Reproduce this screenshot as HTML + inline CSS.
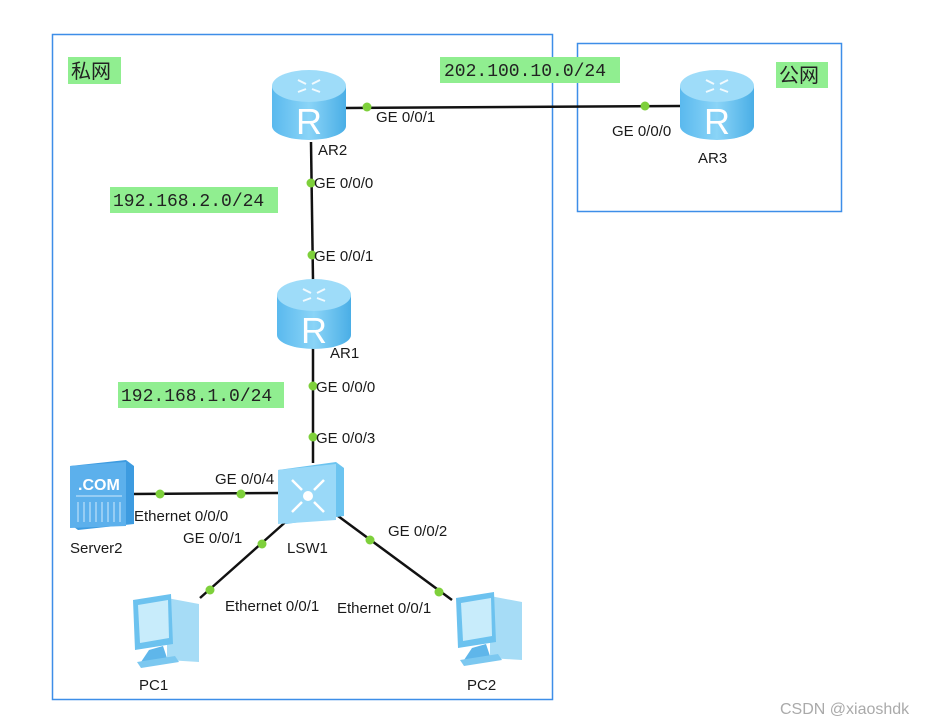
<!DOCTYPE html>
<html><head><meta charset="utf-8"><style>
html,body{margin:0;padding:0;background:#fff;width:936px;height:724px;overflow:hidden}
svg{display:block}
.t{font-family:"Liberation Sans",sans-serif;font-size:15px;fill:#1a1a1a}
.m{font-family:"Liberation Mono",monospace;font-size:18px;fill:#222}
.c{font-family:"Liberation Sans","Noto Sans CJK SC",sans-serif;font-size:20px;fill:#222}
</style></head><body>
<svg width="936" height="724" viewBox="0 0 936 724" xmlns="http://www.w3.org/2000/svg">
<defs>
<linearGradient id="rs" x1="0" y1="0" x2="1" y2="0"><stop offset="0" stop-color="#5ab9ee"/><stop offset="0.5" stop-color="#8ad4f7"/><stop offset="1" stop-color="#4aaee6"/></linearGradient>
<g id="router">
<path d="M0,16 L0,56 A37,14 0 0 0 74,56 L74,16 Z" fill="url(#rs)"/>
<ellipse cx="37" cy="16" rx="37" ry="16" fill="#9edcf9"/>
<g stroke="#fff" stroke-width="2" fill="none" opacity="0.85"><path d="M26,10 l8,4 M48,10 l-8,4 M26,22 l8,-3 M48,22 l-8,-3"/></g>
<text x="37" y="64" text-anchor="middle" font-family="Liberation Sans,sans-serif" font-size="36" fill="#fff">R</text>
</g>
<g id="pc">
<path d="M40,8 L72,14 L72,72 L40,70 Z" fill="#a6dcf6"/>
<path d="M6,10 L44,4 L46,54 L8,60 Z" fill="#6cc2ef"/>
<path d="M11,15 L41,10 L42,48 L13,53 Z" fill="#c8ecfb"/>
<path d="M22,60 L36,56 L40,68 L14,72 Z" fill="#5fb6ea"/>
<path d="M10,72 L48,66 L52,72 L14,78 Z" fill="#7cc8f0"/>
</g>
</defs>
<rect x="52.5" y="34.5" width="500" height="665" fill="none" stroke="#3d8ee8" stroke-width="1.5"/>
<rect x="577.5" y="43.5" width="264" height="168" fill="none" stroke="#3d8ee8" stroke-width="1.5"/>
<rect x="68" y="57" width="53" height="27" fill="#90ee90"/>
<text x="71" y="78" class="c">私网</text>
<rect x="440" y="57" width="180" height="26" fill="#90ee90"/>
<text x="444" y="76" class="m">202.100.10.0/24</text>
<rect x="776" y="62" width="52" height="26" fill="#90ee90"/>
<text x="779" y="82" class="c">公网</text>
<rect x="110" y="187" width="168" height="26" fill="#90ee90"/>
<text x="113" y="206" class="m">192.168.2.0/24</text>
<rect x="118" y="382" width="166" height="26" fill="#90ee90"/>
<text x="121" y="401" class="m">192.168.1.0/24</text>
<g stroke="#111" stroke-width="2.5" fill="none">
<line x1="346" y1="108" x2="680" y2="106"/>
<line x1="311" y1="142" x2="313" y2="280"/>
<line x1="313" y1="342" x2="313" y2="463"/>
<line x1="132" y1="494" x2="278" y2="493"/>
<line x1="290" y1="518" x2="200" y2="598"/>
<line x1="338" y1="516" x2="452" y2="600"/>
</g>
<g fill="#7ed03b">
<circle cx="367" cy="107" r="4.5"/><circle cx="645" cy="106" r="4.5"/>
<circle cx="311" cy="183" r="4.5"/><circle cx="312" cy="255" r="4.5"/>
<circle cx="313" cy="386" r="4.5"/><circle cx="313" cy="437" r="4.5"/>
<circle cx="160" cy="494" r="4.5"/><circle cx="241" cy="494" r="4.5"/>
<circle cx="262" cy="544" r="4.5"/><circle cx="210" cy="590" r="4.5"/>
<circle cx="370" cy="540" r="4.5"/><circle cx="439" cy="592" r="4.5"/>
</g>
<use href="#router" x="272" y="70"/>
<use href="#router" x="277" y="279"/>
<use href="#router" x="680" y="70"/>
<g transform="translate(278,462)">
<path d="M0,8 L58,0 L66,6 L66,54 L8,62 L0,56 Z" fill="#6cc4f0"/>
<path d="M0,8 L58,2 L58,58 L0,62 Z" fill="#9ad9f8"/>
<g stroke="#fff" stroke-width="2.5"><path d="M14,18 l10,10 M46,18 l-10,10 M14,50 l10,-10 M46,50 l-10,-10"/></g>
<circle cx="30" cy="34" r="5" fill="#fff"/>
</g>
<g transform="translate(70,460)">
<path d="M0,6 L56,0 L64,6 L64,64 L8,70 L0,64 Z" fill="#3d9be0"/>
<path d="M0,6 L56,2 L56,66 L0,68 Z" fill="#5cb0ec"/>
<text x="8" y="30" font-family="Liberation Sans,sans-serif" font-weight="bold" font-size="16" fill="#fff">.COM</text>
<g stroke="#cfeafc" stroke-width="1"><path d="M6,36 H52 M8,42 V62 M14,42 V62 M20,42 V62 M26,42 V62 M32,42 V62 M38,42 V62 M44,42 V62 M50,42 V62"/></g>
</g>
<use href="#pc" x="127" y="590"/>
<use href="#pc" x="450" y="588"/>
<g class="t">
<text x="318" y="155">AR2</text>
<text x="376" y="122">GE 0/0/1</text>
<text x="612" y="136">GE 0/0/0</text>
<text x="698" y="163">AR3</text>
<text x="314" y="188">GE 0/0/0</text>
<text x="314" y="261">GE 0/0/1</text>
<text x="330" y="358">AR1</text>
<text x="316" y="392">GE 0/0/0</text>
<text x="316" y="443">GE 0/0/3</text>
<text x="215" y="484">GE 0/0/4</text>
<text x="134" y="521">Ethernet 0/0/0</text>
<text x="70" y="553">Server2</text>
<text x="183" y="543">GE 0/0/1</text>
<text x="287" y="553">LSW1</text>
<text x="388" y="536">GE 0/0/2</text>
<text x="225" y="611">Ethernet 0/0/1</text>
<text x="337" y="613">Ethernet 0/0/1</text>
<text x="139" y="690">PC1</text>
<text x="467" y="690">PC2</text>
</g>
<text x="780" y="714" font-family="Liberation Sans,sans-serif" font-size="16" fill="#aaa">CSDN @xiaoshdk</text>
</svg>
</body></html>
